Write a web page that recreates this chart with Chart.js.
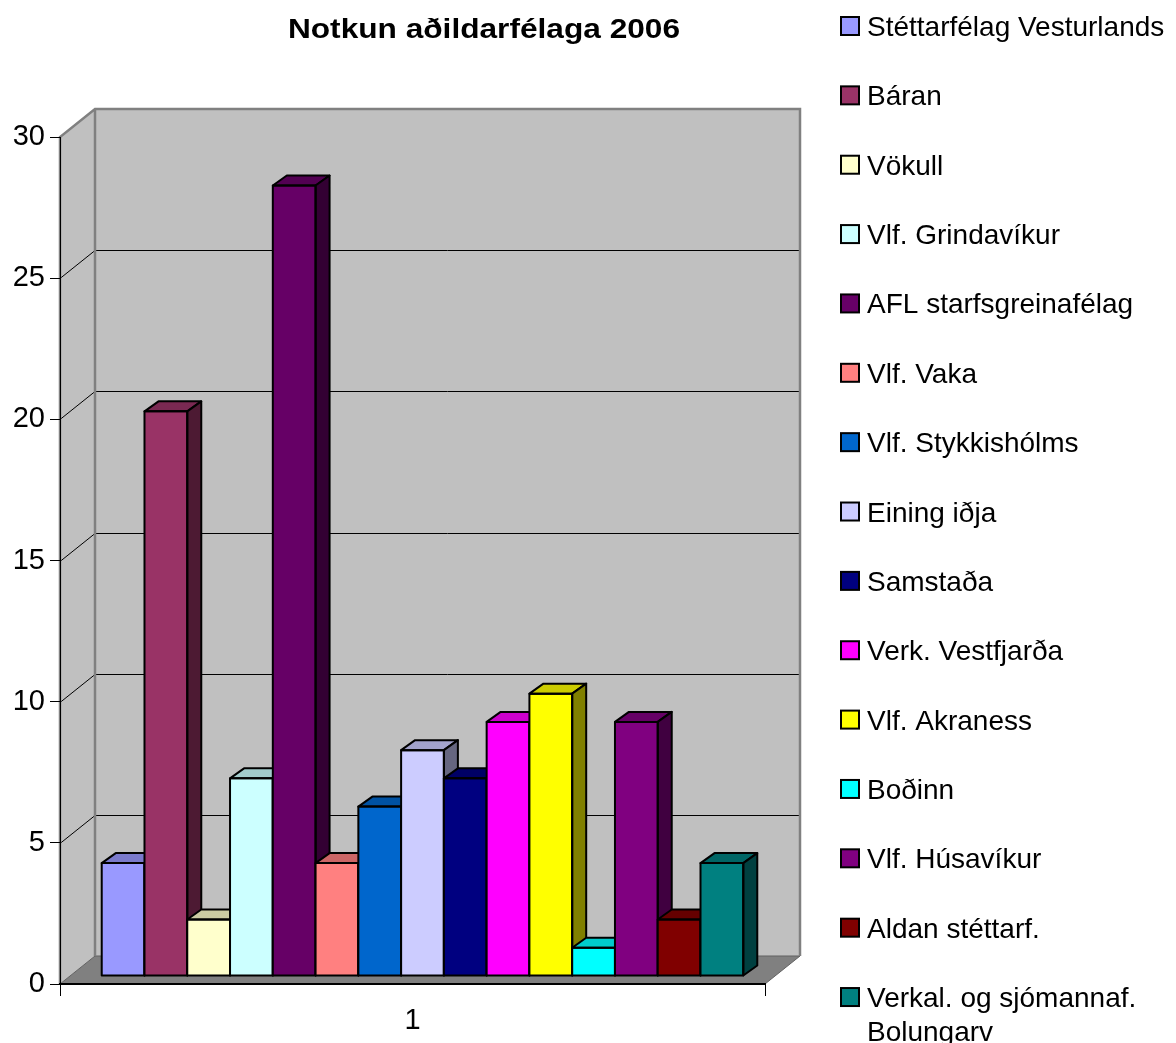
<!DOCTYPE html>
<html>
<head>
<meta charset="utf-8">
<script src="https://cdn.jsdelivr.net/npm/chart.js@4.4.0/dist/chart.umd.min.js"></script>
<style>
    html, body { margin: 0; padding: 0; background: #fff; }
    canvas { display: block; }
</style>
</head>
<body>
<canvas id="notkunChart" width="1176" height="1043"></canvas>
<script>
// Gögn
const titill = 'Notkun aðildarfélaga 2006';
const flokkar = ['1'];
const felog = [
    'Stéttarfélag Vesturlands', 'Báran', 'Vökull', 'Vlf. Grindavíkur', 'AFL starfsgreinafélag',
    'Vlf. Vaka', 'Vlf. Stykkishólms', 'Eining iðja', 'Samstaða', 'Verk. Vestfjarða',
    'Vlf. Akraness', 'Boðinn', 'Vlf. Húsavíkur', 'Aldan stéttarf.', 'Verkal. og sjómannaf. Bolungarv'
];
const notkun = [4, 20, 2, 7, 28, 4, 6, 8, 7, 9, 10, 1, 9, 2, 4];
const yMax = 30;
const yStep = 5;

const litir = [
    '#9999ff', '#993366', '#ffffcc', '#ccffff', '#660066',
    '#ff8080', '#0066cc', '#ccccff', '#000080', '#ff00ff',
    '#ffff00', '#00ffff', '#800080', '#800000', '#008080'
];

const FONT = '"Liberation Sans", Arial, sans-serif';

// dekkri litur fyrir topp og hlið
function skyggja(hex, f) {
    const n = parseInt(hex.slice(1), 16);
    const r = Math.round(((n >> 16) & 255) * f);
    const g = Math.round(((n >> 8) & 255) * f);
    const b = Math.round((n & 255) * f);
    return `rgb(${r}, ${g}, ${b})`;
}

function poly(ctx, pts) {
    ctx.beginPath();
    ctx.moveTo(pts[0][0], pts[0][1]);
    for (let i = 1; i < pts.length; i++) ctx.lineTo(pts[i][0], pts[i][1]);
    ctx.closePath();
}

// Veggir, gólf og gridlínur í 3D
const DYPT = { x: 35, y: -28 };   // dýpt veggja
const SULA = { x: 10, y: -8 };    // staðsetning súlna í dýpt
const SULUDYPT = { x: 14, y: -10 };

const thrividd = {
    id: 'thrividd',
    beforeDraw(chart) {
        const { ctx, chartArea: a, scales: { y } } = chart;
        const top = y.getPixelForValue(yMax);
        const bot = y.getPixelForValue(0);
        const L = a.left, R = a.right;
        ctx.save();
        // bakveggur
        ctx.fillStyle = '#c0c0c0';
        ctx.fillRect(L + DYPT.x, top + DYPT.y, R - L, bot - top);
        // vinstri veggur
        poly(ctx, [[L, top], [L + DYPT.x, top + DYPT.y], [L + DYPT.x, bot + DYPT.y], [L, bot]]);
        ctx.fill();
        // gridlínur
        ctx.strokeStyle = '#000';
        ctx.lineWidth = 1;
        y.ticks.forEach(t => {
            if (t.value <= 0 || t.value >= yMax) return;
            const py = Math.round(y.getPixelForValue(t.value)) + 0.5;
            ctx.beginPath();
            ctx.moveTo(L, py);
            ctx.lineTo(L + DYPT.x, py + DYPT.y);
            ctx.lineTo(R + DYPT.x, py + DYPT.y);
            ctx.stroke();
        });
        // gólf
        ctx.fillStyle = '#808080';
        poly(ctx, [[L, bot], [R, bot], [R + DYPT.x, bot + DYPT.y], [L + DYPT.x, bot + DYPT.y]]);
        ctx.fill();
        ctx.strokeStyle = '#606060';
        ctx.lineWidth = 1;
        ctx.stroke();
        // brúnir veggja
        ctx.strokeStyle = '#808080';
        ctx.lineWidth = 2.5;
        ctx.beginPath();
        ctx.moveTo(L, bot);
        ctx.lineTo(L, top);
        ctx.lineTo(L + DYPT.x, top + DYPT.y);
        ctx.lineTo(R + DYPT.x, top + DYPT.y);
        ctx.lineTo(R + DYPT.x, bot + DYPT.y);
        ctx.moveTo(L + DYPT.x, top + DYPT.y);
        ctx.lineTo(L + DYPT.x, bot + DYPT.y);
        ctx.stroke();
        ctx.restore();
    },
    beforeDatasetDraw() {
        return false; // teiknum sjálf í réttri röð
    },
    afterDatasetsDraw(chart) {
        const ctx = chart.ctx;
        chart.data.datasets.forEach((ds, i) => {
            const meta = chart.getDatasetMeta(i);
            meta.data.forEach(el => {
                const { x, y, base, width } = el.getProps(['x', 'y', 'base', 'width'], true);
                const l = x - width / 2, r = x + width / 2;
                const dx = SULUDYPT.x, dy = SULUDYPT.y;
                ctx.save();
                ctx.translate(SULA.x, SULA.y);
                el.draw(ctx);
                ctx.strokeStyle = '#000';
                ctx.lineWidth = 2;
                ctx.lineJoin = 'round';
                // toppur
                poly(ctx, [[l, y], [r, y], [r + dx, y + dy], [l + dx, y + dy]]);
                ctx.fillStyle = skyggja(ds.backgroundColor, 0.8);
                ctx.fill();
                ctx.stroke();
                // hlið
                poly(ctx, [[r, y], [r + dx, y + dy], [r + dx, base + dy], [r, base]]);
                ctx.fillStyle = skyggja(ds.backgroundColor, 0.5);
                ctx.fill();
                ctx.stroke();
                // framhlið
                ctx.strokeRect(l, y, r - l, base - y);
                ctx.restore();
            });
        });
    },
    afterDraw(chart) {
        const ctx = chart.ctx;
        ctx.save();
        // titill
        ctx.font = `bold 28px ${FONT}`;
        ctx.fillStyle = '#000';
        ctx.textAlign = 'center';
        ctx.textBaseline = 'alphabetic';
        ctx.translate(484, 38);
        ctx.scale(1.13, 1);
        ctx.fillText(titill, 0, 0);
        ctx.restore();

        // skýringar
        ctx.save();
        const fs = 28;
        ctx.font = `${fs}px ${FONT}`;
        ctx.textAlign = 'left';
        ctx.textBaseline = 'alphabetic';
        const bx = 841, tx = 867, maxW = 305;
        chart.data.datasets.forEach((ds, i) => {
            const cy = 26 + i * 69.36;
            ctx.fillStyle = ds.backgroundColor;
            ctx.fillRect(bx, cy - 9, 18, 18);
            ctx.strokeStyle = '#000';
            ctx.lineWidth = 2;
            ctx.strokeRect(bx, cy - 9, 18, 18);
            // línuskipting
            const ord = ds.label.split(' ');
            const linur = [];
            let lina = '';
            ord.forEach(o => {
                const prof = lina ? lina + ' ' + o : o;
                if (lina && ctx.measureText(prof).width > maxW) {
                    linur.push(lina);
                    lina = o;
                } else {
                    lina = prof;
                }
            });
            linur.push(lina);
            ctx.fillStyle = '#000';
            linur.forEach((t, k) => ctx.fillText(t, tx, cy + 10 + k * 34));
        });
        ctx.restore();
    }
};

const ctx = document.getElementById('notkunChart').getContext('2d');
const myChart = new Chart(ctx, {
    type: 'bar',
    data: {
        labels: flokkar,
        datasets: felog.map((nafn, i) => ({
            label: nafn,
            data: [notkun[i]],
            backgroundColor: litir[i],
            borderWidth: 0,
            borderSkipped: false
        }))
    },
    options: {
        responsive: false,
        animation: false,
        devicePixelRatio: 1,
        layout: { padding: { left: 0, right: 411, top: 137, bottom: 0 } },
        categoryPercentage: 0.91,
        barPercentage: 1,
        scales: {
            x: {
                grid: { display: true, drawOnChartArea: false, tickLength: 12, color: '#000', offset: true },
                border: { display: true, color: '#000', width: 2 },
                ticks: { color: '#000', font: { family: FONT, size: 29 }, padding: 8 },
                afterFit(scale) { scale.height = 59; }
            },
            y: {
                min: 0,
                max: yMax,
                grid: { display: true, drawOnChartArea: false, tickLength: 10, color: '#000' },
                border: { display: true, color: '#000', width: 1 },
                ticks: { stepSize: yStep, color: '#000', font: { family: FONT, size: 29 }, padding: 5 },
                afterFit(scale) { scale.width = 60; }
            }
        },
        plugins: {
            legend: { display: false },
            title: { display: false },
            tooltip: { enabled: false }
        }
    },
    plugins: [thrividd]
});
</script>
</body>
</html>
